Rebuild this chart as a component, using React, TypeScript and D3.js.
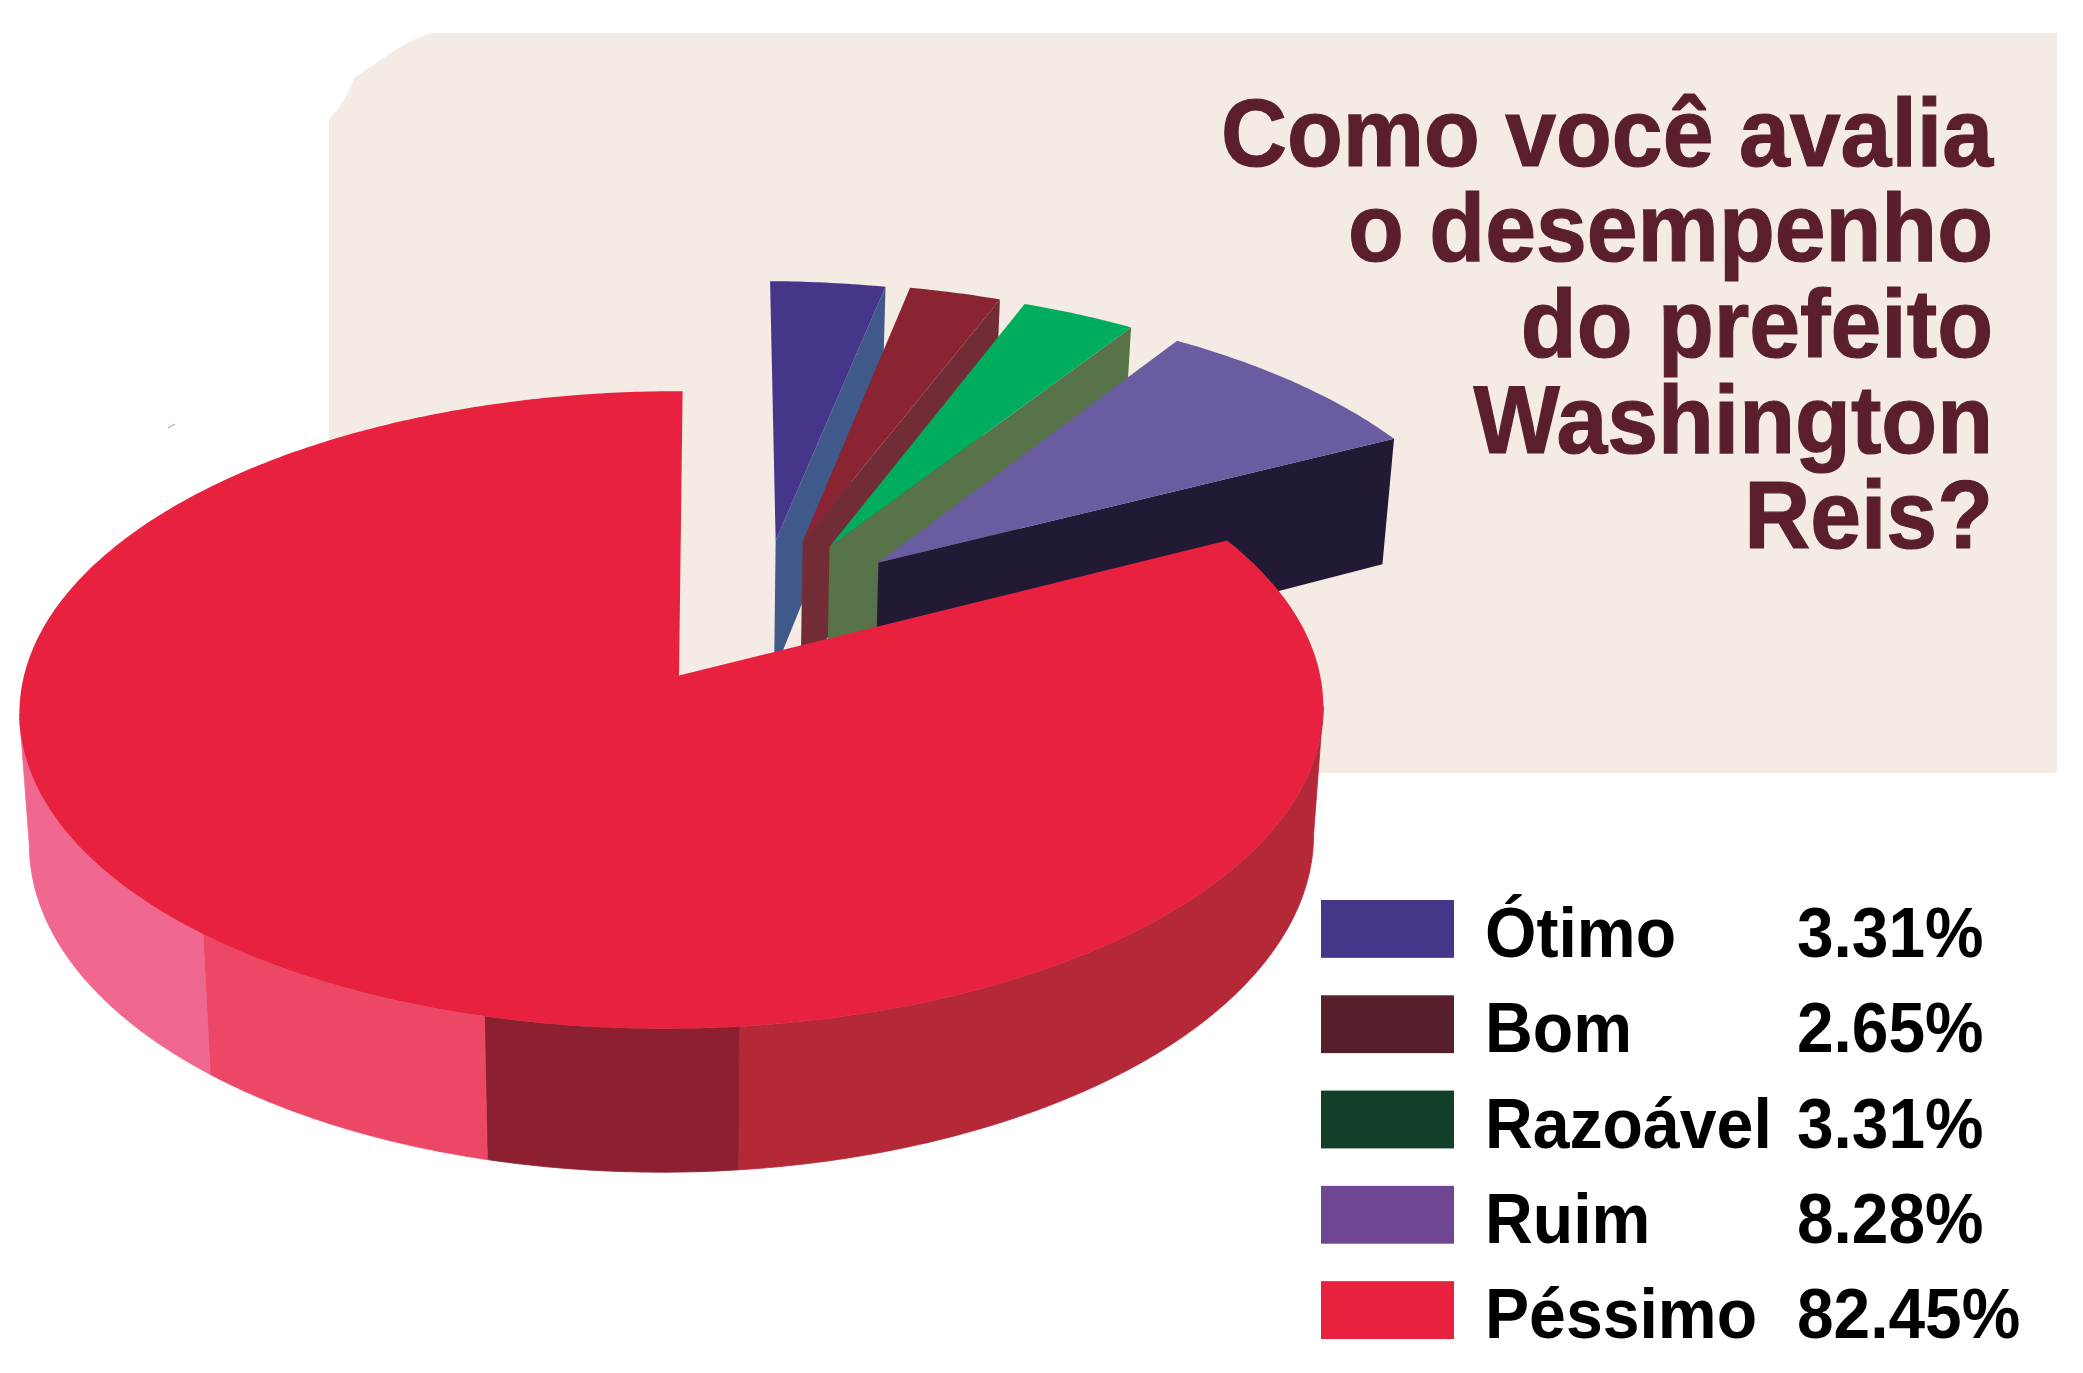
import { useMemo } from 'react';
import * as d3 from 'd3';

const categories = ['Ótimo', 'Bom', 'Razoável', 'Ruim', 'Péssimo'];
const values = [3.31, 2.65, 3.31, 8.28, 82.45];
const valueLabels = ['3.31%', '2.65%', '3.31%', '8.28%', '82.45%'];
const titleLines = ['Como você avalia', 'o desempenho', 'do prefeito', 'Washington', 'Reis?'];

const legendColors = ['#46368a', '#561f2b', '#123f2a', '#6e4692', '#e7213e'];
const topColors = ['#46368a', '#8a2332', '#00ad5f', '#695ca0', '#e7213e'];
const sideColors = ['#3f5a8a', '#722c36', '#58734a', '#221a35'];

// direction each small slice is pulled out of the pie, degrees from 12 o'clock
const explodeDirs = [18.9, 23.9, 29.4, 40.5, 0];
const explodeDist = [0.475, 0.488, 0.491, 0.491, 0];

// the outer wall of the big slice changes shade at these angles
const wallSeams = [174.9, 195.2, 221.7];
const wallColors = ['#b52838', '#8d2030', '#ec4866', '#f0678f'];

// perspective of the pie plane
const CX = 679;
const CY = 675.5;
const A = 648;
const B = 315;
const P = 0.108;
const Q = 0.011;
const SHEAR = -4;
const TILT = -1;
const HEIGHT = 128;
const TAPER = 0.015; // lower face is a little narrower than the top one
const BACK_DEPTH = 1.08; // pulled out slices read a bit deeper at the back

const rad = (deg: number) => (deg * Math.PI) / 180;

function project(u: number, d: number, z = 0): [number, number] {
  const w = 1 - P * d + Q * u;
  return [
    CX + ((A * u + SHEAR * d) / w) * (1 - TAPER * z),
    CY + (B * d + TILT * u + HEIGHT * z) / w,
  ];
}

const line = d3.line();

// scale the text sideways about its anchor, the print face is narrower than Liberation
const squeeze = (x: number, y: number, k: number) => `translate(${x},${y}) scale(${k},1)`;

export default function App() {
  const slices = useMemo(() => {
    const pie = d3.pie<number>().sort(null).value((v) => v);
    return pie(values).map((arc, i) => {
      const ou = explodeDist[i] * Math.sin(rad(explodeDirs[i]));
      const od = -explodeDist[i] * Math.cos(rad(explodeDirs[i]));
      const rim = (t: number, z = 0) => project(ou + Math.sin(t), od - Math.cos(t), z);
      const n = Math.ceil((arc.endAngle - arc.startAngle) / 0.01);
      const angles = d3.range(n + 1).map((k) => arc.startAngle + ((arc.endAngle - arc.startAngle) * k) / n);
      const apex = project(ou, od);
      const apexLow = project(ou, od, BACK_DEPTH);
      return {
        i,
        angles,
        top: line([apex, ...angles.map((t) => rim(t))]) + 'Z',
        side: line([apex, rim(arc.endAngle), rim(arc.endAngle, BACK_DEPTH), apexLow]) + 'Z',
        rim,
      };
    });
  }, []);

  const big = slices[4];
  // wall only runs between the two points where the rim turns back
  const rightEnd = big.angles[d3.greatestIndex(big.angles, (t) => big.rim(t)[0])];
  const leftEnd = big.angles[d3.leastIndex(big.angles, (t) => big.rim(t)[0])];
  const wallStops = [rightEnd, ...wallSeams.map(rad), leftEnd];
  const walls = wallColors.map((color, k) => {
    const ts = big.angles.filter((t) => t > wallStops[k] && t < wallStops[k + 1]);
    const all = [wallStops[k], ...ts, wallStops[k + 1]];
    const upper = all.map((t) => big.rim(t));
    const lower = all.map((t) => big.rim(t, 1)).reverse();
    return { color, d: line([...upper, ...lower]) + 'Z' };
  });

  const legendY = d3.scaleBand<string>().domain(categories).range([900, 1339]).paddingInner(0.393);

  return (
    <svg width={2083} height={1373} viewBox="0 0 2083 1373" style={{ position: 'absolute', left: 0, top: 0 }}>
      <rect width={2083} height={1373} fill="#fff" />
      <path
        d="M329 120 C340 107 349 94 354 78 C380 62 400 42 433 33 L2057 33 L2057 773 L329 773 Z"
        fill="#f5ebe5"
      />
      <path d="M168 428 L175 424" stroke="#999" strokeWidth={1} />

      {slices.slice(0, 4).map((s) => (
        <g key={s.i}>
          <path d={s.side} fill={sideColors[s.i]} />
          <path d={s.top} fill={topColors[s.i]} />
        </g>
      ))}

      {walls.map((w) => (
        <path key={w.color} d={w.d} fill={w.color} stroke={w.color} strokeWidth={0.8} />
      ))}
      <path d={big.top} fill={topColors[4]} />

      <g fontFamily="'Liberation Sans', Arial, sans-serif" fontWeight="bold">
        {titleLines.map((t, i) => (
          <text
            key={t}
            transform={squeeze(1993, 165.5 + i * 95.7, 0.952)}
            textAnchor="end"
            fontSize={96}
            fill="#5a1e2c"
            stroke="#5a1e2c"
            strokeWidth={1.2}
          >
            {t}
          </text>
        ))}
        {categories.map((c, i) => {
          const y = legendY(c) as number;
          return (
            <g key={c}>
              <rect x={1321} y={y} width={133} height={legendY.bandwidth()} fill={legendColors[i]} />
              <text transform={squeeze(1485, y + 57, 0.945)} fontSize={70}>{c}</text>
              <text transform={squeeze(1797, y + 57, 0.94)} fontSize={70}>{valueLabels[i]}</text>
            </g>
          );
        })}
      </g>
    </svg>
  );
}
